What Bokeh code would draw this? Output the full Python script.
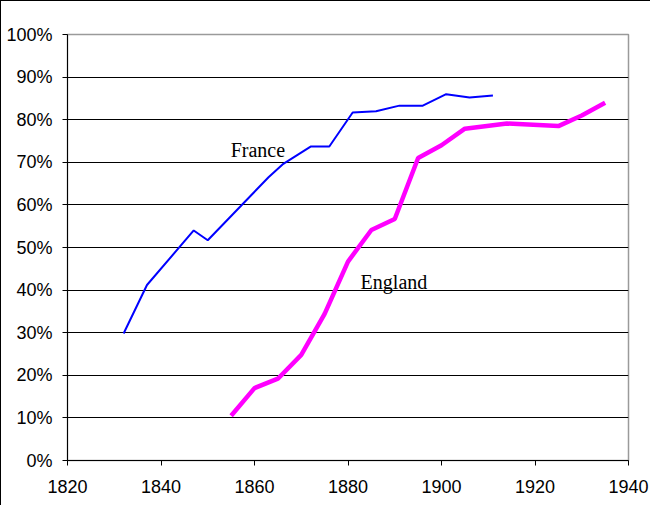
from bokeh.plotting import figure
from bokeh.models import Range1d, FixedTicker, PrintfTickFormatter
from bokeh.core.properties import value
from bokeh.embed import file_html
from bokeh.resources import INLINE

# ---- data ----
france_years = [1832, 1837, 1847, 1850, 1863, 1866, 1872, 1876, 1881, 1886, 1891, 1896, 1901, 1906, 1911]
france_pct = [29.8, 41.2, 54.0, 51.7, 66.5, 69.5, 73.7, 73.7, 81.7, 82.0, 83.3, 83.3, 86.0, 85.2, 85.7]

england_years = [1855, 1860, 1865, 1870, 1875, 1880, 1885, 1890, 1895, 1900, 1905, 1914, 1925, 1930, 1935]
england_pct = [10.5, 17.0, 19.2, 24.8, 34.4, 46.7, 54.1, 56.7, 71.0, 74.0, 77.9, 79.1, 78.5, 81.0, 84.0]

x_ticks = [1820, 1840, 1860, 1880, 1900, 1920, 1940]
y_ticks = [0, 10, 20, 30, 40, 50, 60, 70, 80, 90, 100]

label_texts = ["France", "England"]
label_x = [1854.9, 1882.7]
label_y = [72.8, 42.0]

# ---- figure ----
p = figure(width=650, height=505, output_backend="svg", toolbar_location=None,
           x_range=Range1d(1820, 1940), y_range=Range1d(0, 100),
           min_border_left=66, min_border_top=33, min_border_right=23, min_border_bottom=46,
           styles={"border-left": "1.5px solid #000", "border-top": "1.5px solid #000"})

p.background_fill_color = "white"
p.border_fill_color = "white"
p.outline_line_color = "#9a9a9a"
p.outline_line_width = 1.5

p.xgrid.visible = False
p.ygrid.ticker = FixedTicker(ticks=y_ticks[1:-1])
p.ygrid.grid_line_color = "#000000"
p.ygrid.grid_line_width = 1

for ax in (p.xaxis, p.yaxis):
    ax.axis_line_color = "#000000"
    ax.axis_line_width = 1
    ax.major_tick_line_color = "#000000"
    ax.major_tick_in = 0
    ax.major_tick_out = 5
    ax.minor_tick_line_color = None
    ax.major_label_text_font = "Liberation Sans"
    ax.major_label_text_font_size = "18px"
    ax.major_label_text_color = "#000000"

p.xaxis.ticker = FixedTicker(ticks=x_ticks)
p.yaxis.ticker = FixedTicker(ticks=y_ticks)
p.yaxis.formatter = PrintfTickFormatter(format="%d%%")
p.xaxis.major_label_standoff = 14
p.yaxis.major_label_standoff = 10

p.line(france_years, france_pct, line_color="#0000FF", line_width=2)
p.line(england_years, england_pct, line_color="#FF00FF", line_width=4.5)

p.text(x=label_x, y=label_y, text=label_texts,
       text_font=value("Liberation Serif"), text_font_size="20px",
       text_color="#000000", text_align="left", text_baseline="alphabetic")

open("out.html", "w").write(file_html(p, INLINE))
